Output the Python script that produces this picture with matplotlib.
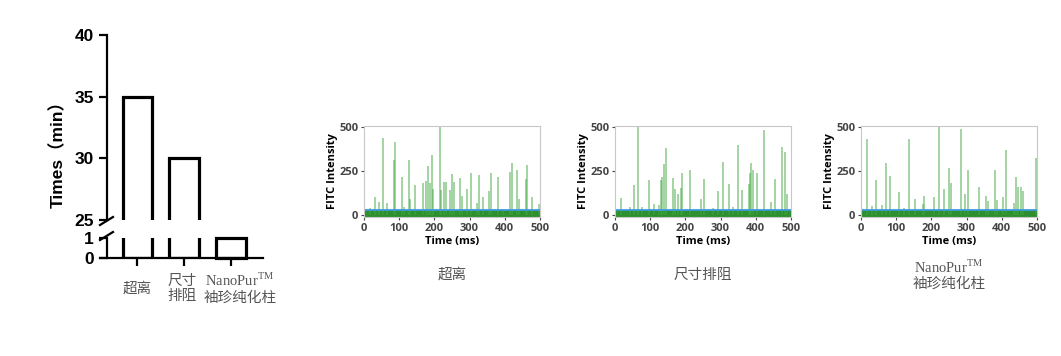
import numpy as np
import matplotlib.pyplot as plt
from matplotlib.lines import Line2D
from matplotlib.transforms import ScaledTranslation

plt.rcParams['mathtext.fontset'] = 'custom'
plt.rcParams['mathtext.rm'] = 'Liberation Serif'

# --- bar chart: processing time ---
methods = ['超离', '尺寸\n排阻', 'NanoPur$^{\\rm TM}$\n袖珍纯化柱']
times_min = [35, 30, 1]
upper_ticks = [25, 30, 35, 40]
lower_ticks = [0, 1]

# --- FITC traces (spike time in ms, peak intensity) ---
captions = ['超离', '尺寸排阻', 'NanoPur$^{\\rm TM}$\n袖珍纯化柱']
spike_t_1 = [18, 30, 44, 53, 65, 84, 89, 108, 114, 129, 131, 146, 168, 175, 183, 188, 193, 196,
             216, 219, 228, 233, 245, 250, 255, 273, 279, 292, 305, 320, 328, 338, 354, 360,
             381, 396, 415, 420, 434, 439, 461, 463, 477, 496]
spike_h_1 = [40, 100, 75, 435, 70, 315, 415, 215, 45, 310, 90, 170, 180, 195, 280, 180, 340, 145,
             505, 140, 190, 190, 140, 235, 190, 210, 105, 150, 240, 70, 225, 100, 135, 240,
             215, 35, 245, 295, 255, 90, 205, 285, 100, 60]
spike_t_2 = [16, 43, 54, 66, 78, 96, 112, 125, 131, 134, 140, 145, 166, 171, 179, 187, 191, 214,
             243, 253, 277, 293, 308, 323, 334, 350, 361, 380, 384, 386, 393, 402, 423, 444,
             455, 474, 483, 489]
spike_h_2 = [97, 45, 172, 505, 45, 198, 60, 55, 198, 213, 292, 378, 210, 148, 120, 153, 240, 253,
             93, 204, 41, 135, 303, 178, 45, 400, 144, 176, 236, 298, 256, 238, 481, 75,
             206, 388, 360, 120]
spike_t_3 = [16, 30, 44, 59, 71, 81, 108, 123, 137, 152, 177, 180, 207, 222, 237, 249, 257, 285,
             295, 303, 336, 356, 361, 382, 387, 403, 413, 435, 440, 445, 455, 461, 497]
spike_h_3 = [432, 50, 197, 56, 297, 222, 128, 40, 432, 88, 62, 109, 103, 505, 150, 269, 179, 491,
             118, 256, 160, 109, 81, 258, 85, 103, 367, 68, 214, 156, 156, 137, 325]
noise_top = 26
baseline_level = 28
time_ticks = [0, 100, 200, 300, 400, 500]
intensity_ticks = [0, 250, 500]

W, H = 1061, 356
fig = plt.figure(figsize=(W / 100, H / 100), dpi=100)


def fx(px):
    return px / W


def fy(py):
    return 1 - py / H


cjk_serif = ['Liberation Serif', 'Noto Sans CJK SC']
bold_font = ['Liberation Sans', 'Noto Sans CJK SC']

# ---------- broken-axis bar chart ----------
ax_top = fig.add_axes([fx(107), fy(220), fx(156), 185 / H])
ax_bot = fig.add_axes([fx(107), fy(258), fx(156), 20 / H])
xpos = np.arange(len(methods))
for ax in (ax_top, ax_bot):
    bars = ax.bar(xpos, times_min, width=0.62, facecolor='none', edgecolor='black', linewidth=2.3)
    ax.set_xlim(-0.64, 2.68)
    for s in ('top', 'right'):
        ax.spines[s].set_visible(False)
    ax.spines['left'].set_linewidth(1.6)
    ax.tick_params(axis='y', length=6, width=1.6, labelsize=12.5)
bars[2].set_clip_on(False)

ax_top.set_ylim(25, 40)
ax_top.set_yticks(upper_ticks)
ax_top.spines['bottom'].set_visible(False)
ax_top.set_xticks([])
ax_bot.set_ylim(0, 1)
ax_bot.set_yticks(lower_ticks)
ax_bot.spines['bottom'].set_linewidth(1.6)
ax_bot.spines['bottom'].set_bounds(-0.78, 2.68)
ax_bot.set_xticks(xpos)
ax_bot.set_xticklabels(methods, family=cjk_serif, fontsize=10.5, color='#555555')
ax_bot.tick_params(axis='x', length=6, width=1.6, pad=16)
for lab in ax_bot.get_xticklabels():
    lab.set_verticalalignment('center')
xlabs = ax_bot.get_xticklabels()
xlabs[1].set_transform(xlabs[1].get_transform() + ScaledTranslation(-2 / 100, 0, fig.dpi_scale_trans))
xlabs[2].set_transform(xlabs[2].get_transform() + ScaledTranslation(9 / 100, 0, fig.dpi_scale_trans))
for ax in (ax_top, ax_bot):
    for lab in ax.get_yticklabels():
        lab.set_family(bold_font)
        lab.set_fontweight('bold')

# break marks on the y axis
for cy in (221, 236):
    fig.add_artist(Line2D([fx(100), fx(113)], [fy(cy + 4), fy(cy - 4)], color='black', lw=1.6))

fig.text(fx(58), fy(150), 'Times（min）', rotation=90, ha='center', va='center',
         fontsize=12.5, fontweight='bold', family=bold_font)

# ---------- FITC trace panels ----------
panel_left = [364, 615, 861]
spikes = [(spike_t_1, spike_h_1), (spike_t_2, spike_h_2), (spike_t_3, spike_h_3)]
ui_font = ['Open Sans', 'DejaVu Sans']
for left, (st, sh), cap in zip(panel_left, spikes, captions):
    ax = fig.add_axes([fx(left), fy(217), fx(176), 91 / H])
    ax.fill_between(time_ticks, -20, noise_top, color='#2e8f2e', lw=0)
    ax.vlines(st, 0, sh, color='#3ea63e', alpha=0.6, lw=1.1)
    ax.axhline(baseline_level, color='#3d9be0', lw=1.3)
    ax.set_xlim(time_ticks[0], time_ticks[-1])
    ax.set_ylim(-12, 506)
    ax.set_xticks(time_ticks)
    ax.set_yticks(intensity_ticks)
    for s in ax.spines.values():
        s.set_color('#c8c8c8')
        s.set_linewidth(0.8)
    ax.tick_params(length=2.5, width=0.8, labelsize=8, colors='#444444', pad=1.5)
    for lab in ax.get_xticklabels() + ax.get_yticklabels():
        lab.set_family(ui_font)
        lab.set_fontweight('bold')
    ax.set_xlabel('Time (ms)', fontsize=8, fontweight='bold', family=ui_font, labelpad=2)
    ax.set_ylabel('FITC Intensity', fontsize=8, fontweight='bold', family=ui_font, labelpad=1)
    fig.text(fx(left + 88), fy(275), cap, ha='center', va='center', fontsize=10.5,
             color='#555555', family=cjk_serif, linespacing=1.1)

fig.savefig('out.png', dpi=100)
